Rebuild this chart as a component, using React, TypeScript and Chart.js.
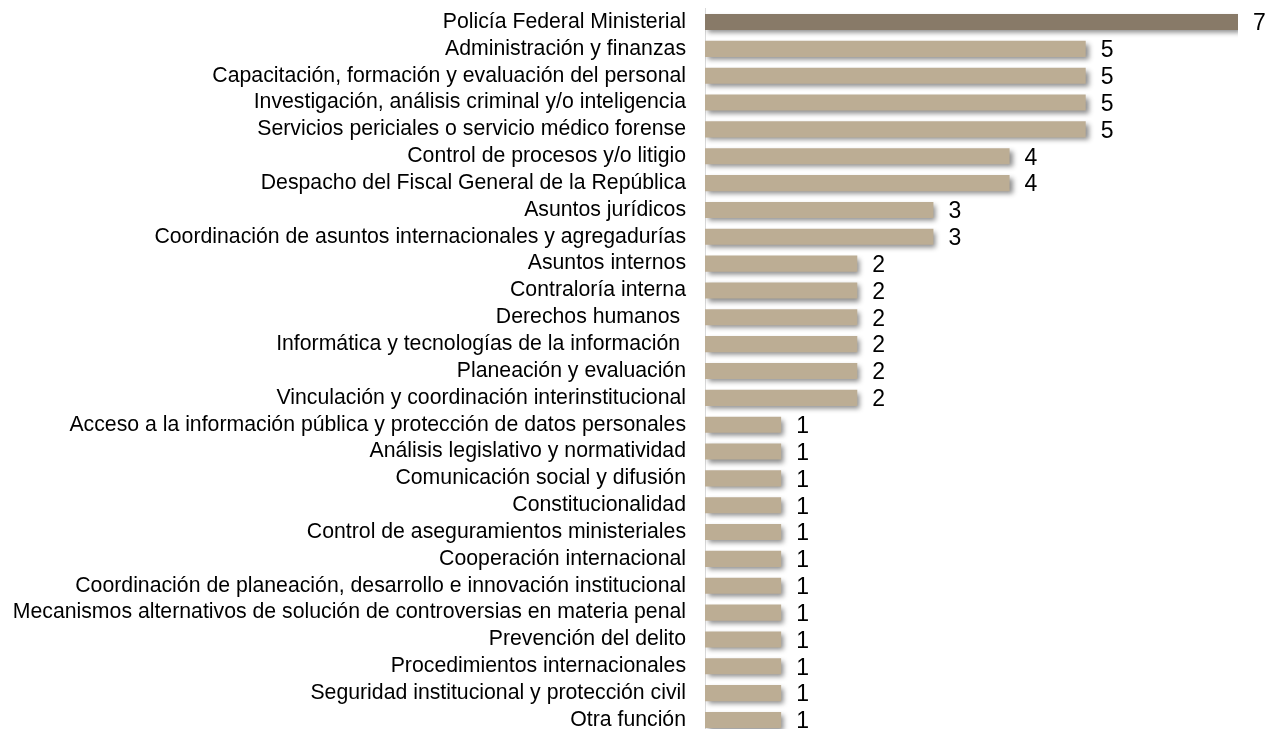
import React, { useEffect, useRef } from "react";
import { Chart, registerables } from "chart.js";

Chart.register(...registerables);

const categories: string[] = [
  "Policía Federal Ministerial",
  "Administración y finanzas",
  "Capacitación, formación y evaluación del personal",
  "Investigación, análisis criminal y/o inteligencia",
  "Servicios periciales o servicio médico forense",
  "Control de procesos y/o litigio",
  "Despacho del Fiscal General de la República",
  "Asuntos jurídicos",
  "Coordinación de asuntos internacionales y agregadurías",
  "Asuntos internos",
  "Contraloría interna",
  "Derechos humanos ",
  "Informática y tecnologías de la información ",
  "Planeación y evaluación",
  "Vinculación y coordinación interinstitucional",
  "Acceso a la información pública y protección de datos personales",
  "Análisis legislativo y normatividad",
  "Comunicación social y difusión",
  "Constitucionalidad",
  "Control de aseguramientos ministeriales",
  "Cooperación internacional",
  "Coordinación de planeación, desarrollo e innovación institucional",
  "Mecanismos alternativos de solución de controversias en materia penal",
  "Prevención del delito",
  "Procedimientos internacionales",
  "Seguridad institucional y protección civil",
  "Otra función",
];

const values: number[] = [7, 5, 5, 5, 5, 4, 4, 3, 3, 2, 2, 2, 2, 2, 2, 1, 1, 1, 1, 1, 1, 1, 1, 1, 1, 1, 1];

const FONT = "'Liberation Sans', Arial, sans-serif";

export default function App() {
  const ref = useRef<HTMLCanvasElement | null>(null);
  useEffect(() => {
    if (!ref.current) return;
    const shadowPlugin = {
      id: "barShadow",
      beforeDatasetDraw(chart: any) {
        const ctx = chart.ctx;
        ctx.save();
        ctx.shadowColor = "rgba(0,0,0,0.45)";
        ctx.shadowBlur = 5;
        ctx.shadowOffsetX = 3;
        ctx.shadowOffsetY = 3;
      },
      afterDatasetDraw(chart: any) {
        chart.ctx.restore();
      },
    };
    const labelPlugin = {
      id: "valueLabels",
      afterDatasetsDraw(chart: any) {
        const ctx = chart.ctx;
        const meta = chart.getDatasetMeta(0);
        ctx.save();
        ctx.fillStyle = "#000";
        ctx.font = `23px ${FONT}`;
        ctx.textAlign = "left";
        ctx.textBaseline = "middle";
        meta.data.forEach((bar: any, i: number) => {
          ctx.fillText(String(values[i]), bar.x + 15, bar.y + 2);
        });
        ctx.restore();
      },
    };
    const chart = new Chart(ref.current, {
      type: "bar",
      data: {
        labels: categories,
        datasets: [
          {
            data: values,
            backgroundColor: values.map((_, i) => (i === 0 ? "#887A68" : "#BCAD94")),
            barPercentage: 0.6,
            categoryPercentage: 1,
          },
        ],
      },
      options: {
        indexAxis: "y",
        animation: false,
        responsive: false,
        layout: { padding: { top: 8.6, bottom: 1.6, right: 30, left: 0 } },
        plugins: { legend: { display: false }, tooltip: { enabled: false } },
        scales: {
          x: {
            display: false,
            min: 0,
            max: 7,
          },
          y: {
            afterFit(scale: any) {
              scale.width = 705;
              scale.paddingTop = 0;
              scale.paddingBottom = 0;
            },
            grid: { display: false, drawTicks: false },
            border: { display: true, color: "#D9D9D9", width: 1 },
            ticks: {
              color: "#000",
              padding: 19,
              autoSkip: false,
              font: { family: FONT, size: 21.25 },
            },
          },
        },
      },
      plugins: [shadowPlugin, labelPlugin],
    });
    return () => chart.destroy();
  }, []);
  return (
    <div style={{ position: "absolute", left: 0, top: 0, width: 1268, height: 735, background: "#fff" }}>
      <canvas ref={ref} width={1268} height={735} style={{ display: "block" }} />
    </div>
  );
}
